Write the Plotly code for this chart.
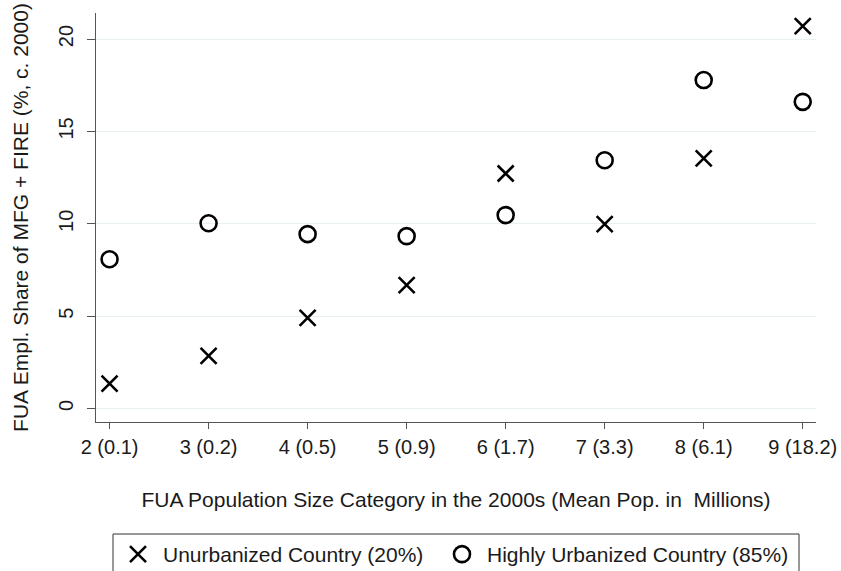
import plotly.graph_objects as go

categories = [2, 3, 4, 5, 6, 7, 8, 9]
tick_labels = ["2 (0.1)", "3 (0.2)", "4 (0.5)", "5 (0.9)", "6 (1.7)", "7 (3.3)", "8 (6.1)", "9 (18.2)"]
unurbanized = [1.35, 2.85, 4.91, 6.68, 12.72, 9.98, 13.54, 20.70]
highly_urbanized = [8.08, 10.03, 9.44, 9.33, 10.47, 13.44, 17.78, 16.60]
y_ticks = [0, 5, 10, 15, 20]

FONT = "Liberation Sans"
FS = 21
TFS = 20

W, H = 841, 571
ML, MR, MT, MB = 96, 25, 13, 149
PW, PH = W - ML - MR, H - MT - MB


def px_x(p):
    return (p - ML) / PW


def px_y(p):
    return (H - MB - p) / PH


fig = go.Figure()
fig.add_trace(go.Scatter(
    x=categories, y=unurbanized, mode="markers",
    name="Unurbanized Country (20%)", legend="legend",
    marker=dict(symbol="x-thin-open", size=16, color="black",
                line=dict(color="black", width=2.6)),
))
fig.add_trace(go.Scatter(
    x=categories, y=highly_urbanized, mode="markers",
    name="Highly Urbanized Country (85%)", legend="legend2",
    marker=dict(symbol="circle-open", size=16, color="black",
                line=dict(color="black", width=2.6)),
))

legend_common = dict(
    orientation="h", xref="paper", xanchor="left",
    yref="container", y=1 - 534 / H, yanchor="top",
    itemwidth=40, borderwidth=0, bgcolor="rgba(0,0,0,0)",
    font=dict(family=FONT, size=FS),
)

fig.update_layout(
    width=W, height=H,
    margin=dict(l=ML, r=MR, t=MT, b=MB, autoexpand=False),
    paper_bgcolor="white", plot_bgcolor="white",
    font=dict(family=FONT, size=FS, color="#1a1a1a"),
    showlegend=True,
    legend=dict(x=px_x(113), **legend_common),
    legend2=dict(x=px_x(437), **legend_common),
    shapes=[dict(
        type="rect", xref="paper", yref="paper",
        x0=px_x(113), x1=px_x(799), y0=px_y(580), y1=px_y(534),
        line=dict(color="#333", width=1), fillcolor="rgba(0,0,0,0)", layer="below",
    )],
    xaxis=dict(
        range=[1.863, 9.134], tickvals=categories, ticktext=tick_labels,
        tickfont=dict(family=FONT, size=TFS), ticklabelstandoff=1, automargin=False,
        showgrid=False, zeroline=False, showline=True, linecolor="#555", linewidth=1.3,
        ticks="outside", ticklen=6, tickcolor="#555",
        title=dict(text="FUA Population Size Category in the 2000s (Mean Pop. in  Millions)",
                   font=dict(family=FONT, size=FS), standoff=35),
    ),
    yaxis=dict(
        range=[-0.73, 21.41], tickvals=y_ticks, tickangle=-90,
        tickfont=dict(family=FONT, size=TFS), ticklabelstandoff=6, automargin=False,
        showgrid=True, gridcolor="#e8f0f2", gridwidth=1.3, zeroline=False,
        showline=True, linecolor="#555", linewidth=1.3,
        ticks="outside", ticklen=8, tickcolor="#555",
        title=dict(text="FUA Empl. Share of MFG + FIRE (%, c. 2000)",
                   font=dict(family=FONT, size=FS), standoff=20),
    ),
)

fig.write_html(
    "out.html",
    config={"displayModeBar": False},
    post_script="document.body.style.margin='0px';document.body.style.overflow='hidden';",
)
